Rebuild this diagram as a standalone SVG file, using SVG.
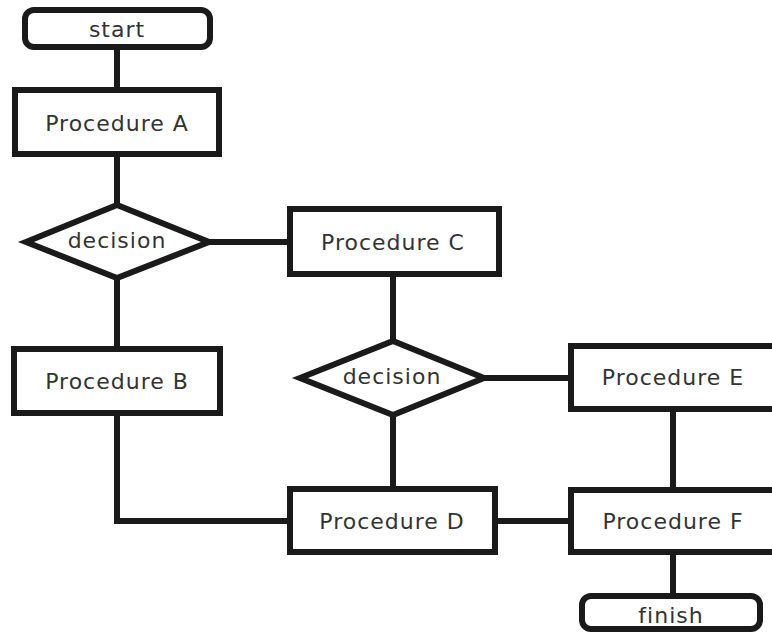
<svg xmlns="http://www.w3.org/2000/svg" width="772" height="633" viewBox="0 0 772 633">
<style>
.box{fill:#fff;stroke:#1a1a1a;stroke-width:6}
.ln{fill:none;stroke:#1a1a1a;stroke-width:6}
text{font-family:"DejaVu Sans","Liberation Sans",sans-serif;font-size:22px;fill:#333;text-anchor:middle;letter-spacing:1px}
</style>
<rect width="772" height="633" fill="#fff"/>
<g id="connectors">
<line class="ln" x1="117" y1="48" x2="117" y2="90"/>
<line class="ln" x1="117" y1="154" x2="117" y2="205"/>
<line class="ln" x1="209" y1="242" x2="290" y2="242"/>
<line class="ln" x1="117" y1="278" x2="117" y2="349"/>
<polyline class="ln" points="117,413 117,521 290,521"/>
<line class="ln" x1="393" y1="274" x2="393" y2="341"/>
<line class="ln" x1="484" y1="378" x2="571" y2="378"/>
<line class="ln" x1="393" y1="415" x2="393" y2="489"/>
<line class="ln" x1="495" y1="521" x2="571" y2="521"/>
<line class="ln" x1="673" y1="409" x2="673" y2="490"/>
<line class="ln" x1="673" y1="552" x2="673" y2="596"/>
</g>
<g id="start"><rect class="box" x="25" y="10" width="185" height="37" rx="9"/><text x="117" y="37">start</text></g>
<g id="procA"><rect class="box" x="15" y="90" width="204" height="64"/><text x="117" y="131">Procedure A</text></g>
<g id="decision1"><polygon class="box" points="26,242 117,205 209,242 117,278"/><text x="117" y="248">decision</text></g>
<g id="procC"><rect class="box" x="290" y="209" width="209" height="65"/><text x="393" y="250">Procedure C</text></g>
<g id="procB"><rect class="box" x="14" y="349" width="206" height="64"/><text x="117" y="389">Procedure B</text></g>
<g id="decision2"><polygon class="box" points="300,378 393,341 484,378 393,415"/><text x="392" y="384">decision</text></g>
<g id="procE"><rect class="box" x="571" y="346" width="204" height="63"/><text x="673" y="385">Procedure E</text></g>
<g id="procD"><rect class="box" x="290" y="489" width="205" height="63"/><text x="392" y="529">Procedure D</text></g>
<g id="procF"><rect class="box" x="571" y="490" width="204" height="62"/><text x="673" y="529">Procedure F</text></g>
<g id="finish"><rect class="box" x="582" y="596" width="178" height="33" rx="9"/><text x="671" y="623">finish</text></g>
</svg>
